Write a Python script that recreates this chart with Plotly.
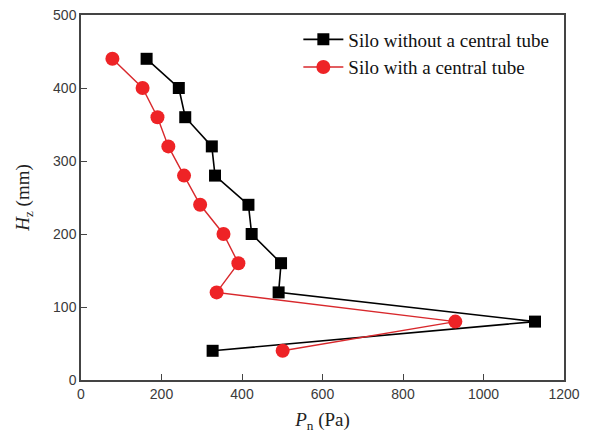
import plotly.graph_objects as go

H = [440, 400, 360, 320, 280, 240, 200, 160, 120, 80, 40]
p_without = [163, 243, 259, 325, 333, 416, 424, 497, 491, 1128, 327]
p_with = [78, 153, 190, 217, 256, 296, 354, 391, 337, 930, 501]

x_ticks = [0, 200, 400, 600, 800, 1000, 1200]
y_ticks = [0, 100, 200, 300, 400, 500]

fig = go.Figure()
fig.add_trace(go.Scatter(
    x=p_without, y=H, mode="lines+markers", name="Silo without a central tube",
    line=dict(color="black", width=1.6),
    marker=dict(symbol="square", size=12, color="black"),
))
fig.add_trace(go.Scatter(
    x=p_with, y=H, mode="lines+markers", name="Silo with a central tube",
    line=dict(color="#d8282c", width=1.4),
    marker=dict(symbol="circle", size=14, color="#ee2326"),
))

axis_common = dict(
    showgrid=False, zeroline=False, showline=True, mirror=True,
    linecolor="#444", linewidth=1.5, ticks="inside", ticklen=6,
    tickcolor="#444", tickwidth=1.2, automargin=False,
    tickfont=dict(family="Liberation Sans, Arial", size=14, color="#3a3a3a"),
)

fig.update_layout(
    width=589, height=433,
    margin=dict(l=81, r=25, t=15, b=53),
    paper_bgcolor="white", plot_bgcolor="white",
    showlegend=True,
    legend=dict(
        x=0.45, y=0.985, xanchor="left", yanchor="top",
        bgcolor="rgba(0,0,0,0)", borderwidth=0,
        font=dict(family="Liberation Serif, Times New Roman", size=19, color="#111"),
        tracegroupgap=0, itemwidth=40,
    ),
    xaxis=dict(
        range=[0, 1200], tickvals=x_ticks,
        title=dict(text="<i>P</i><sub>n</sub> (Pa)", standoff=14,
                   font=dict(family="Liberation Serif, Times New Roman", size=19, color="#222")),
        **axis_common,
    ),
    yaxis=dict(
        range=[0, 500], tickvals=y_ticks,
        title=dict(text="<i>H</i><sub>z</sub> (mm)", standoff=18,
                   font=dict(family="Liberation Serif, Times New Roman", size=19, color="#222")),
        **axis_common,
    ),
)

fig.write_html("out.html")
